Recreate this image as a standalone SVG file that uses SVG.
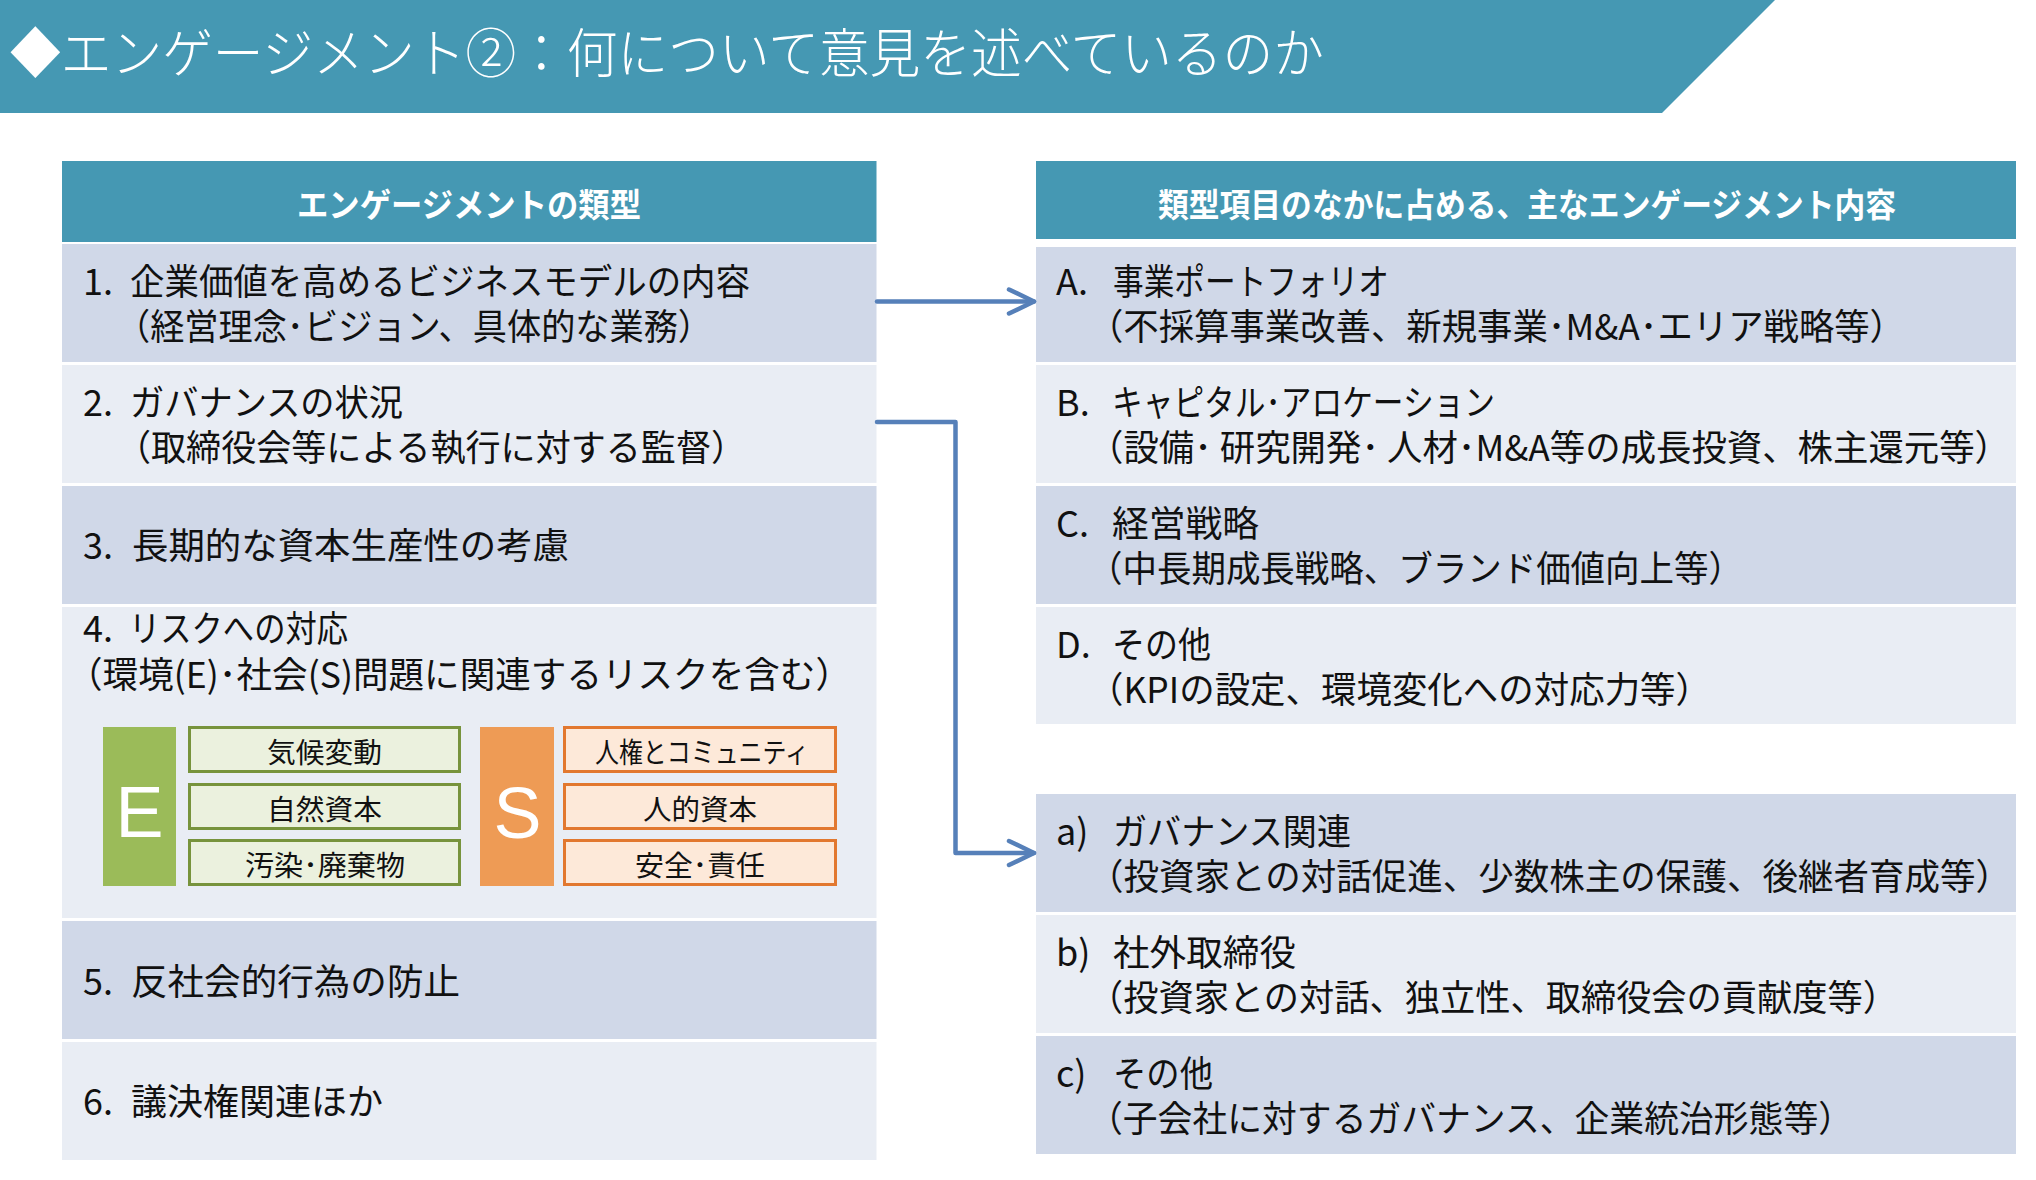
<svg xmlns="http://www.w3.org/2000/svg" width="2036" height="1180" viewBox="0 0 2036 1180">
<defs>
<style>
text { font-family: "Noto Sans CJK JP", "Noto Sans", sans-serif; }
.t { fill:#111; font-size:36px; }
.h { fill:#fff; font-size:33px; font-weight:bold; }
.title { fill:#fff; font-size:53px; font-weight:300; }
.sm { fill:#111; font-size:28px; }
.big { fill:#fff; font-size:72px; font-family:"Liberation Sans", Arial, sans-serif; text-anchor:middle; }
.hdr { fill:#4598B3; }
.dark { fill:#D0D8E8; }
.light { fill:#E9EDF4; }
.eb { fill:#EBF1DE; stroke:#77933C; stroke-width:3; }
.sb { fill:#FDE9D9; stroke:#E2782F; stroke-width:3; }
.conn { fill:none; stroke:#5680B9; stroke-width:4.5; stroke-linejoin:round; stroke-linecap:round; }
</style>
<marker id="chev" markerUnits="userSpaceOnUse" markerWidth="40" markerHeight="40" viewBox="-30 -20 40 40" refX="0" refY="0" orient="auto">
<path d="M-25,-12 L0,0 L-25,12" fill="none" stroke="#5680B9" stroke-width="4.5" stroke-linecap="round" stroke-linejoin="round"/>
</marker>
</defs>
<rect width="2036" height="1180" fill="#fff"/>

<g id="title">
<polygon class="hdr" points="0,0 1775,0 1662,113 0,113"/>
<text class="title" x="10" y="73" textLength="1314" lengthAdjust="spacingAndGlyphs">◆エンゲージメント②：何について意見を述べているのか</text>
</g>

<g id="left-header">
<rect class="hdr" x="62" y="161" width="814.5" height="81"/>
<text class="h" x="297" y="217" textLength="344" lengthAdjust="spacingAndGlyphs">エンゲージメントの類型</text>
</g>

<g id="row-1">
<rect class="dark" x="62" y="244" width="814.5" height="118"/>
<text class="t" x="83" y="295">1.</text>
<text class="t" x="130" y="295" textLength="620" lengthAdjust="spacingAndGlyphs">企業価値を高めるビジネスモデルの内容</text>
<text class="t" x="116" y="340" textLength="596" lengthAdjust="spacingAndGlyphs">（経営理念･ビジョン、具体的な業務）</text>
</g>

<g id="row-2">
<rect class="light" x="62" y="365" width="814.5" height="118"/>
<text class="t" x="83" y="416">2.</text>
<text class="t" x="130" y="416" textLength="273" lengthAdjust="spacingAndGlyphs">ガバナンスの状況</text>
<text class="t" x="116" y="461" textLength="630" lengthAdjust="spacingAndGlyphs">（取締役会等による執行に対する監督）</text>
</g>

<g id="row-3">
<rect class="dark" x="62" y="486" width="814.5" height="118"/>
<text class="t" x="83" y="559">3.</text>
<text class="t" x="132" y="559" textLength="437" lengthAdjust="spacingAndGlyphs">長期的な資本生産性の考慮</text>
</g>

<g id="row-4">
<rect class="light" x="62" y="607" width="814.5" height="311"/>
<text class="t" x="83" y="642">4.</text>
<text class="t" x="129" y="642" textLength="219" lengthAdjust="spacingAndGlyphs">リスクへの対応</text>
<text class="t" x="67" y="688" textLength="784" lengthAdjust="spacingAndGlyphs">（環境(E)･社会(S)問題に関連するリスクを含む）</text>
</g>

<g id="esg-E">
<rect x="103" y="727" width="73" height="159" fill="#9BBB59"/>
<text class="big" x="139.5" y="837">E</text>
</g>
<g id="e-1">
<rect class="eb" x="189.5" y="727.5" width="270" height="44"/>
<text class="sm" x="267" y="763" textLength="115" lengthAdjust="spacingAndGlyphs">気候変動</text>
</g>
<g id="e-2">
<rect class="eb" x="189.5" y="784.5" width="270" height="44"/>
<text class="sm" x="267" y="820" textLength="115" lengthAdjust="spacingAndGlyphs">自然資本</text>
</g>
<g id="e-3">
<rect class="eb" x="189.5" y="840.5" width="270" height="44"/>
<text class="sm" x="245" y="876" textLength="160" lengthAdjust="spacingAndGlyphs">汚染･廃棄物</text>
</g>

<g id="esg-S">
<rect x="480" y="727" width="74" height="159" fill="#EE9B55"/>
<text class="big" x="517.5" y="838">S</text>
</g>
<g id="s-1">
<rect class="sb" x="564.5" y="727.5" width="271" height="44"/>
<text class="sm" x="595" y="763" textLength="214" lengthAdjust="spacingAndGlyphs">人権とコミュニティ</text>
</g>
<g id="s-2">
<rect class="sb" x="564.5" y="784.5" width="271" height="44"/>
<text class="sm" x="643" y="820" textLength="114" lengthAdjust="spacingAndGlyphs">人的資本</text>
</g>
<g id="s-3">
<rect class="sb" x="564.5" y="840.5" width="271" height="44"/>
<text class="sm" x="635" y="876" textLength="130" lengthAdjust="spacingAndGlyphs">安全･責任</text>
</g>

<g id="row-5">
<rect class="dark" x="62" y="921" width="814.5" height="118"/>
<text class="t" x="83" y="995">5.</text>
<text class="t" x="131" y="995" textLength="329" lengthAdjust="spacingAndGlyphs">反社会的行為の防止</text>
</g>

<g id="row-6">
<rect class="light" x="62" y="1042" width="814.5" height="118"/>
<text class="t" x="83" y="1115">6.</text>
<text class="t" x="131" y="1115" textLength="252" lengthAdjust="spacingAndGlyphs">議決権関連ほか</text>
</g>

<g id="right-header">
<rect class="hdr" x="1036" y="161" width="980" height="78"/>
<text class="h" x="1158" y="217" textLength="738" lengthAdjust="spacingAndGlyphs">類型項目のなかに占める、主なエンゲージメント内容</text>
</g>

<g id="row-A">
<rect class="dark" x="1036" y="247" width="980" height="115"/>
<text class="t" x="1056" y="295">A.</text>
<text class="t" x="1113" y="295" textLength="276" lengthAdjust="spacingAndGlyphs">事業ポートフォリオ</text>
<text class="t" x="1088" y="340" textLength="817" lengthAdjust="spacingAndGlyphs">（不採算事業改善、新規事業･M&amp;A･エリア戦略等）</text>
</g>

<g id="row-B">
<rect class="light" x="1036" y="365" width="980" height="118"/>
<text class="t" x="1056" y="416">B.</text>
<text class="t" x="1112" y="416" textLength="383" lengthAdjust="spacingAndGlyphs">キャピタル･アロケーション</text>
<text class="t" x="1088" y="461" textLength="922" lengthAdjust="spacingAndGlyphs">（設備･ 研究開発･ 人材･M&amp;A等の成長投資、株主還元等）</text>
</g>

<g id="row-C">
<rect class="dark" x="1036" y="486" width="980" height="118"/>
<text class="t" x="1056" y="537">C.</text>
<text class="t" x="1112" y="537" textLength="147" lengthAdjust="spacingAndGlyphs">経営戦略</text>
<text class="t" x="1088" y="582" textLength="655" lengthAdjust="spacingAndGlyphs">（中長期成長戦略、ブランド価値向上等）</text>
</g>

<g id="row-D">
<rect class="light" x="1036" y="607" width="980" height="117"/>
<text class="t" x="1056" y="658">D.</text>
<text class="t" x="1112" y="658" textLength="99" lengthAdjust="spacingAndGlyphs">その他</text>
<text class="t" x="1088" y="703" textLength="623" lengthAdjust="spacingAndGlyphs">（KPIの設定、環境変化への対応力等）</text>
</g>

<g id="row-a">
<rect class="dark" x="1036" y="794" width="980" height="118"/>
<text class="t" x="1056" y="845">a)</text>
<text class="t" x="1113" y="845" textLength="238" lengthAdjust="spacingAndGlyphs">ガバナンス関連</text>
<text class="t" x="1088" y="890" textLength="923" lengthAdjust="spacingAndGlyphs">（投資家との対話促進、少数株主の保護、後継者育成等）</text>
</g>

<g id="row-b">
<rect class="light" x="1036" y="915" width="980" height="118"/>
<text class="t" x="1056" y="966">b)</text>
<text class="t" x="1113" y="966" textLength="183" lengthAdjust="spacingAndGlyphs">社外取締役</text>
<text class="t" x="1088" y="1011" textLength="810" lengthAdjust="spacingAndGlyphs">（投資家との対話、独立性、取締役会の貢献度等）</text>
</g>

<g id="row-c">
<rect class="dark" x="1036" y="1036" width="980" height="118"/>
<text class="t" x="1056" y="1087">c)</text>
<text class="t" x="1113" y="1087" textLength="100" lengthAdjust="spacingAndGlyphs">その他</text>
<text class="t" x="1088" y="1132" textLength="765" lengthAdjust="spacingAndGlyphs">（子会社に対するガバナンス、企業統治形態等）</text>
</g>

<g id="connectors">
<path class="conn" d="M877,301.5 H1034" marker-end="url(#chev)"/>
<path class="conn" d="M877,422 H955.5 V853 H1034" marker-end="url(#chev)"/>
</g>
</svg>
